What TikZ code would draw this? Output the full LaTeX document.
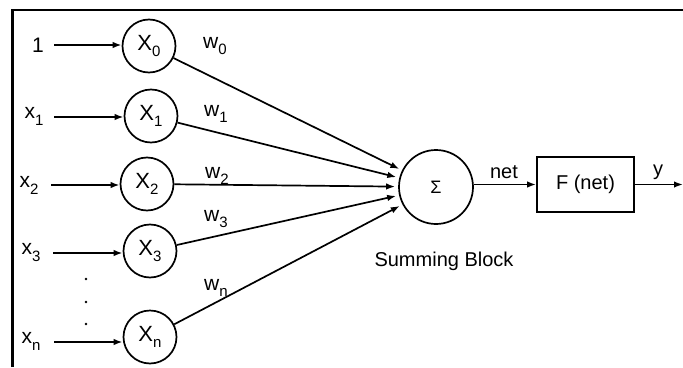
\documentclass[tikz,border=0pt]{standalone}
\usepackage{fontspec}
\setmainfont{Liberation Sans}
\usetikzlibrary{arrows.meta}

% subscript set in the text font, dropped below the baseline
\newcommand\lowsub[2][6pt]{\raisebox{-#1}{\fontsize{15}{15}\selectfont #2}}

\begin{document}
\begin{tikzpicture}[x=1pt,y=-1pt,
  every node/.style={font=\fontsize{21}{22}\selectfont, inner sep=0pt},
  arr/.style={line width=1.7pt, -{Latex[length=9pt,width=6.5pt]}},
  unit/.style={circle, draw, line width=1.7pt, minimum size=53pt, font=\fontsize{22}{22}\selectfont},
  sumunit/.style={circle, draw, line width=1.7pt, minimum size=74pt},
  fbox/.style={draw, line width=1.7pt, minimum width=97pt, minimum height=55pt},
  dot/.style={circle, fill, minimum size=2.8pt}
]
\useasboundingbox (0,0) rectangle (683,367);

% frame edges
\draw[line width=2.2pt] (12.5,367) -- (12.5,10) -- (683,10);

% input units
\node[unit] (u0) at (149,46)  {X\lowsub{0}};
\node[unit] (u1) at (151,116) {X\lowsub{1}};
\node[unit] (u2) at (147,184) {X\lowsub{2}};
\node[unit] (u3) at (150,251) {X\lowsub{3}};
\node[unit] (un) at (150,337) {X\lowsub{n}};

% input signals
\node (i0) at (38,45)  {1};
\node (i1) at (34,116) {x\lowsub[7pt]{1}};
\node (i2) at (29,185) {x\lowsub[7pt]{2}};
\node (i3) at (31,253) {x\lowsub[7pt]{3}};
\node (in) at (31,341) {x\lowsub[7pt]{n}};

\coordinate (a0) at (54,45);
\coordinate (a1) at (54,117);
\coordinate (a2) at (51,185);
\coordinate (a3) at (53,253);
\coordinate (an) at (54,342);
\draw[arr] (a0) -- (u0.west |- a0);
\draw[arr] (a1) -- (u1.west |- a1);
\draw[arr] (a2) -- (u2.west |- a2);
\draw[arr] (a3) -- (u3.west |- a3);
\draw[arr] (an) -- (un.west |- an);

% ellipsis between x3 and xn
\node[dot] (d1) at (86,279) {};
\node[dot] (d2) at (86,302) {};
\node[dot] (d3) at (86,324) {};

% summing block
\node[sumunit] (sum) at (436,187) {\fontsize{18}{18}\selectfont Σ};
\node (sumlbl) at (444,261) {\fontsize{20}{20}\selectfont Summing Block};

% weighted connections
\draw[arr, shorten >=3pt] (u0) -- (sum);
\draw[arr, shorten >=3pt] (u1) -- (sum);
\draw[arr, shorten >=3pt] (u2) -- (sum);
\draw[arr, shorten >=3pt] (u3) -- (sum);
\draw[arr, shorten >=3pt] (un) -- (sum);

\node (w0) at (215,46)  {w\lowsub{0}};
\node (w1) at (216,114) {w\lowsub{1}};
\node (w2) at (217,176) {w\lowsub{2}};
\node (w3) at (216,219) {w\lowsub{3}};
\node (wn) at (216,288) {w\lowsub{n}};

% activation
\node[fbox] (f) at (585.5,184.5) {\fontsize{20}{20}\selectfont F (net)};
\draw[arr] (sum.east |- f) -- (f.west);
\node (net) at (504,172) {\fontsize{20}{20}\selectfont net};

\coordinate (out) at (683,184.5);
\draw[arr] (f.east) -- (out);
\node (y) at (658,172) {\fontsize{20}{20}\selectfont y};
\end{tikzpicture}
\end{document}
